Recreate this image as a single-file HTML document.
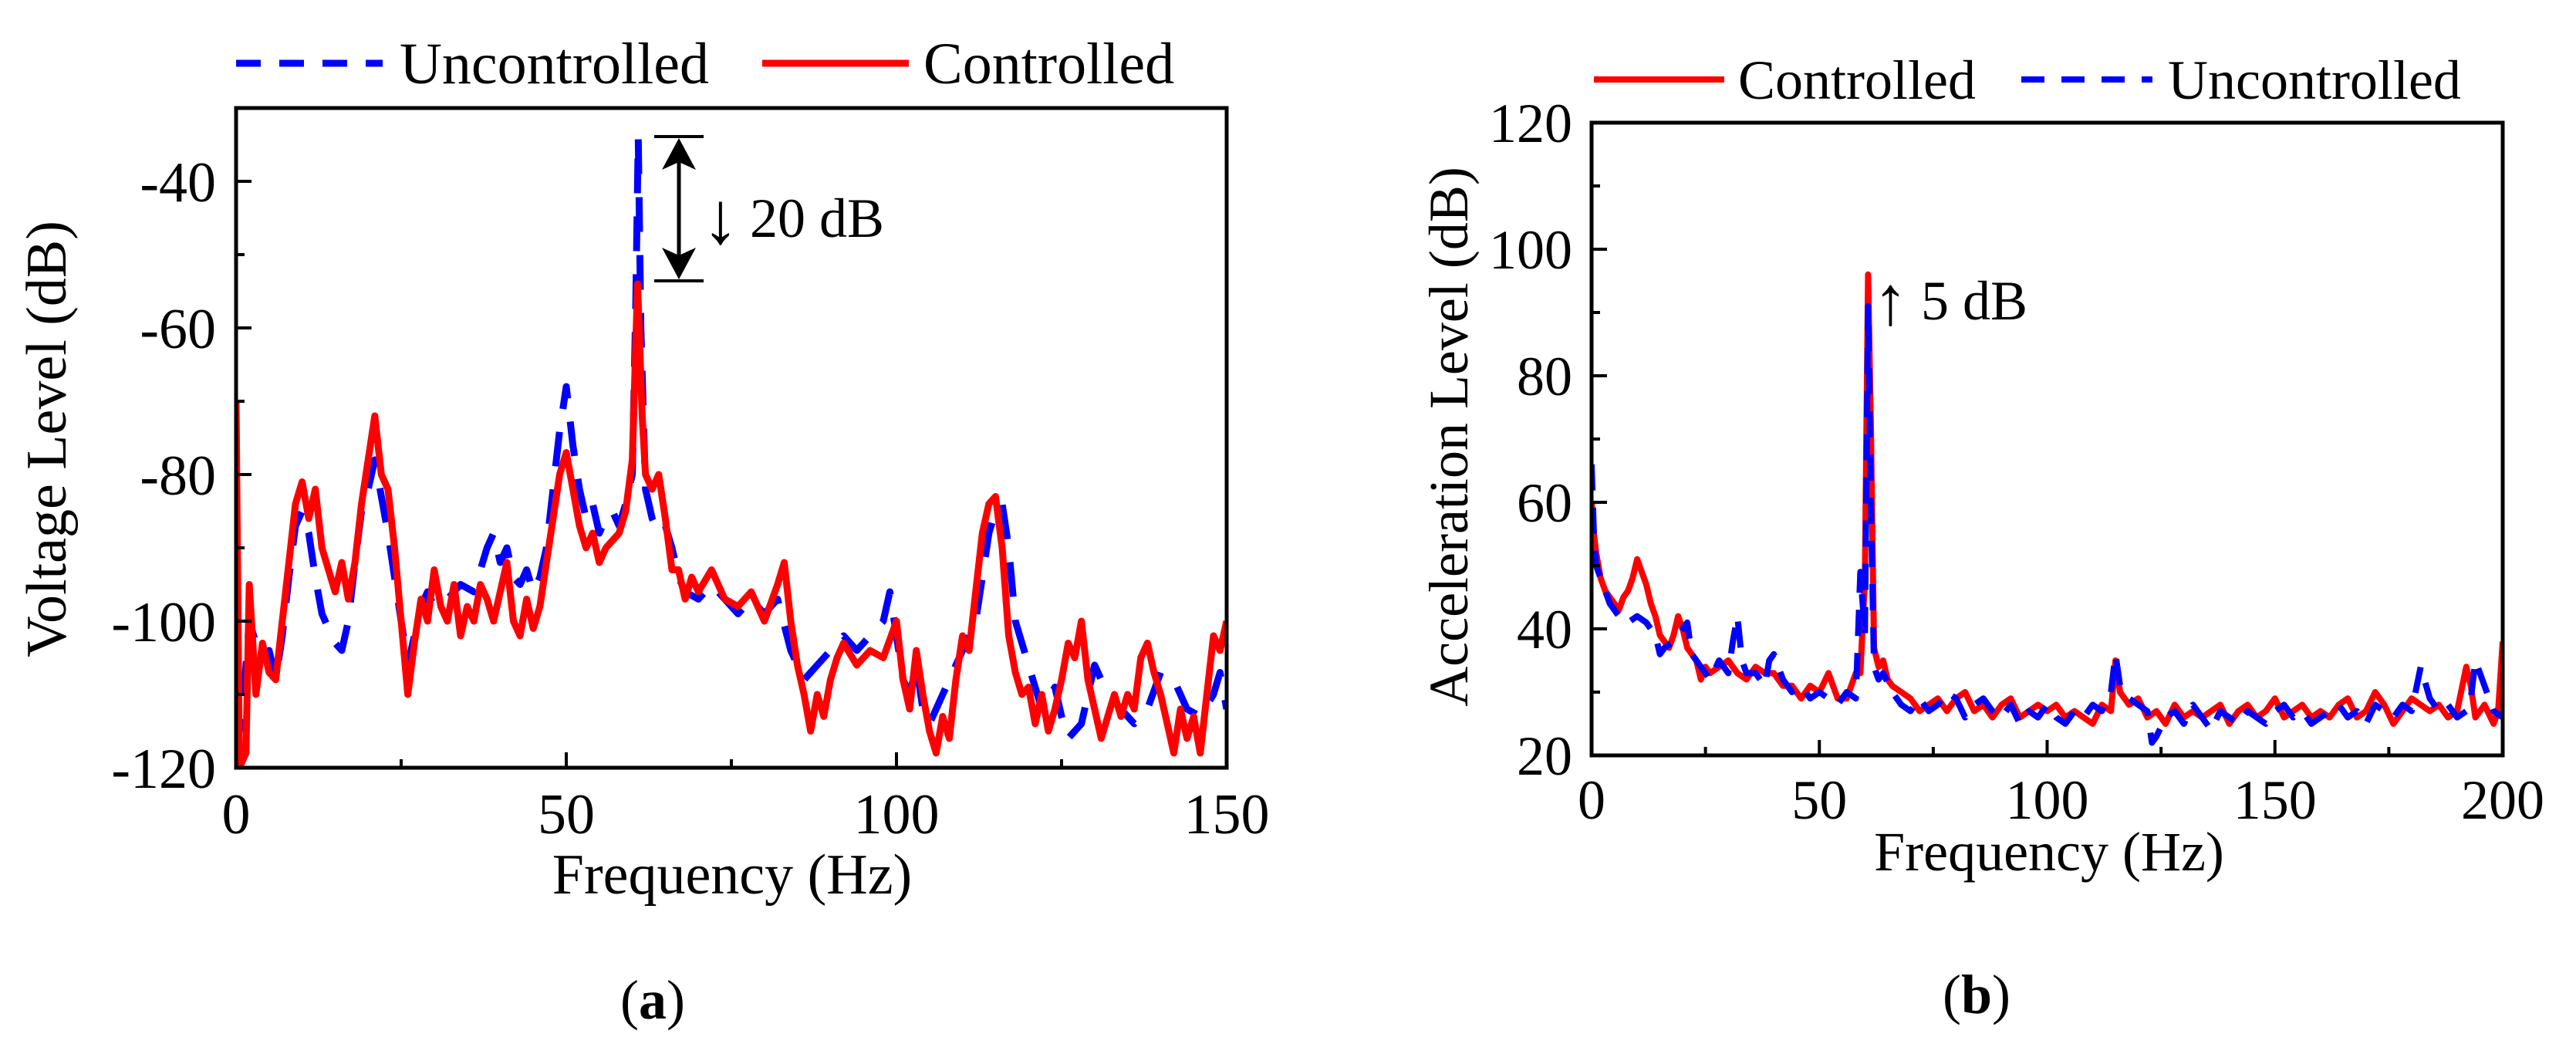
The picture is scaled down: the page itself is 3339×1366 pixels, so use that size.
<!DOCTYPE html>
<html><head><meta charset="utf-8"><style>
html,body{margin:0;padding:0;background:#fff;}
svg{display:block;font-family:"Liberation Serif",serif;}
</style></head><body>
<svg id="fig" width="3339" height="1366" viewBox="0 0 3339 1366" xmlns="http://www.w3.org/2000/svg">
<rect width="3339" height="1366" fill="#fff"/>
<g>
  <g>
    <line x1="306" y1="82" x2="496" y2="82" stroke="#0000ff" stroke-width="9" stroke-dasharray="32,24"/>
    <text x="518" y="108" font-size="76">Uncontrolled</text>
    <line x1="988" y1="82" x2="1178" y2="82" stroke="#ff0000" stroke-width="9"/>
    <text x="1197" y="108" font-size="76">Controlled</text>
  </g>
  <g id="seriesA"></g>
  <g id="axesA"></g>
  <text x="85" y="569" font-size="74" text-anchor="middle" transform="rotate(-90 85 569)">Voltage Level (dB)</text>
  <text x="949" y="1158" font-size="74" text-anchor="middle">Frequency (Hz)</text>
  <text x="846" y="1320" font-size="72" text-anchor="middle">(<tspan font-weight="bold">a</tspan>)</text>
  <g>
    <line x1="848" y1="177" x2="912" y2="177" stroke="#000" stroke-width="4"/>
    <line x1="848" y1="364" x2="912" y2="364" stroke="#000" stroke-width="4"/>
    <line x1="880" y1="200" x2="880" y2="342" stroke="#000" stroke-width="5"/>
    <polygon points="880,179 858,220 880,210 902,220" fill="#000"/>
    <polygon points="880,362 858,321 880,331 902,321" fill="#000"/>
    <text x="910" y="315" font-size="95">↓</text>
    <text x="972" y="307" font-size="72">20 dB</text>
  </g>
</g>
<g>
  <g>
    <line x1="2066" y1="103" x2="2235" y2="103" stroke="#ff0000" stroke-width="8"/>
    <text x="2253" y="128" font-size="72">Controlled</text>
    <line x1="2620" y1="103" x2="2790" y2="103" stroke="#0000ff" stroke-width="8" stroke-dasharray="30,22"/>
    <text x="2810" y="128" font-size="72">Uncontrolled</text>
  </g>
  <g id="seriesB"></g>
  <g id="axesB"></g>
  <text x="1878" y="590" font-size="72" text-anchor="middle" transform="rotate(-90 1878 566)">Acceleration Level (dB)</text>
  <text x="2656" y="1128" font-size="72" text-anchor="middle">Frequency (Hz)</text>
  <text x="2562" y="1313" font-size="72" text-anchor="middle">(<tspan font-weight="bold">b</tspan>)</text>
  <text x="2428" y="420" font-size="90">↑</text>
  <text x="2490" y="414" font-size="72">5 dB</text>
</g>
</svg>
<script>
// ---- Chart A data ----
const aCtrlF = [0,0.5,1.5,2,3,4,5,6,7,8,9,10,11,12,13,14,15,16,17,18,19,20,21,22,23,24,25,26,27,28,29,30,31,32,33,34,35,36,37,38,39,40,41,42,43,44,45,46,47,48,49,50,51,52,53,54,55,56,57,58,59,60,60.8,61.5,62,63,64,65,66,67,68,69,70,72,74,76,78,80,82,83,84,85,86,87,88,89,90,91,92,94,96,98,100,101,102,103,104,105,106,107,108,109,110,111,112,113,114,115,116,117,118,119,120,121,122,123,124,125,126,127,128,129,130,131,132,133,134,135,136,137,138,139,140,141,142,143,144,145,146,147,148,149,150];
const aCtrlV = [-70,-120,-118,-95,-110,-103,-107,-108,-100,-92,-84,-81,-86,-82,-90,-93,-96,-92,-97,-92,-84,-78,-72,-80,-82,-90,-100,-110,-103,-97,-100,-93,-98,-100,-95,-102,-98,-100,-95,-97,-100,-96,-92,-100,-102,-97,-101,-98,-92,-86,-80,-77,-82,-87,-90,-88,-92,-90,-89,-88,-85,-78,-54,-72,-80,-82,-80,-86,-93,-93,-97,-94,-96,-93,-97,-98,-96,-100,-95,-92,-100,-106,-110,-115,-110,-113,-108,-105,-103,-106,-104,-105,-100,-108,-112,-104,-110,-115,-118,-113,-116,-108,-102,-104,-96,-88,-84,-83,-90,-102,-107,-110,-109,-114,-110,-115,-112,-108,-103,-105,-100,-108,-112,-116,-113,-110,-113,-110,-112,-105,-103,-107,-110,-114,-118,-112,-116,-113,-118,-110,-102,-104,-100];
const aUncF = [0,1,2,3,4,5,6,7,8,9,10,11,12,13,14,15,16,17,18,19,20,21,22,23,24,25,26,27,28,29,30,32,34,36,38,39,40,41,42,43,44,45,46,47,48,49,50,51,52,53,54,55,56,57,58,59,60,60.5,60.9,61.3,62,63,64,65,66,67,68,70,72,74,76,78,80,82,84,86,88,90,92,94,96,98,99,100,101,102,103,104,105,106,108,110,112,113,114,115,116,117,118,120,122,124,125,126,128,130,132,134,136,138,140,142,144,146,148,149,150];
const aUncV = [-118,-112,-100,-103,-105,-104,-108,-102,-94,-87,-85,-88,-94,-99,-101,-103,-104,-100,-92,-85,-82,-78,-83,-88,-94,-100,-106,-102,-98,-96,-98,-97,-95,-96,-90,-88,-92,-90,-94,-95,-93,-96,-94,-90,-82,-74,-68,-76,-82,-86,-84,-88,-86,-85,-87,-84,-80,-58,-34,-60,-82,-86,-88,-87,-90,-94,-96,-97,-95,-97,-99,-97,-99,-97,-104,-108,-106,-104,-102,-104,-102,-100,-96,-102,-108,-110,-106,-112,-114,-112,-108,-104,-100,-94,-88,-85,-84,-90,-100,-106,-112,-109,-113,-116,-114,-106,-110,-112,-114,-112,-107,-108,-112,-113,-110,-107,-112,-98];
const aXTicks = [0,50,100,150];
const aXTickLabels = ["0","50","100","150"];
const aYTicks = [-120,-100,-80,-60,-40];
const aYTickLabels = ["-120","-100","-80","-60","-40"];
// ---- Chart B data ----
const bCtrlF = [0,0.5,1,2,3,4,5,6,7,8,9,10,11,12,13,14,15,16,17,18,19,20,21,22,23,24,25,26,28,30,32,34,36,38,40,42,44,46,48,50,52,54,56,58,59,60,60.7,61.3,62,63,64,65,66,68,70,72,74,76,78,80,82,84,86,88,90,92,94,96,98,100,102,104,106,108,110,112,114,115,116,118,120,122,124,126,128,130,132,134,136,138,140,142,144,146,148,150,152,154,156,158,160,162,164,166,168,170,172,174,176,178,180,182,184,186,188,190,192,193,194,196,198,199,200];
const bCtrlV = [60,55,52,48,46,45,44,43,45,46,48,51,49,47,44,42,39,38,37,39,42,40,37,36,35,32,34,33,34,35,33,32,34,33,33,31,31,29,31,30,33,29,29,33,33,48,96,72,37,34,35,32,31,30,29,27,28,29,27,29,30,27,28,26,28,29,26,27,28,27,28,26,27,26,25,28,27,35,30,28,29,26,27,25,28,26,27,26,27,28,25,27,28,26,27,29,26,27,28,26,27,26,28,29,26,27,30,28,25,27,29,28,27,28,26,27,34,31,26,28,25,27,38];
const bUncF = [0,0.5,1,2,3,4,5,6,7,8,10,12,14,15,16,18,20,21,22,24,26,28,30,31,32,33,34,36,38,39,40,42,44,46,48,50,52,54,56,58,59,60,60.7,61.3,62,63,64,66,68,70,72,74,76,78,80,82,84,86,88,90,92,94,96,98,100,102,104,106,108,110,112,114,115,116,118,120,122,123,124,126,128,130,132,134,136,138,140,142,144,146,148,150,152,154,156,158,160,162,164,166,168,170,172,174,176,178,180,182,184,186,188,190,192,193,194,196,198,200];
const bUncV = [66,55,50,48,46,44,43,42,42,41,42,41,39,36,37,38,40,41,36,34,32,35,33,38,42,35,33,33,31,35,36,32,30,31,29,30,29,28,30,29,49,39,91,60,34,32,33,30,28,27,29,27,28,30,29,26,28,29,27,26,28,25,27,26,28,26,25,27,26,28,27,30,36,31,29,28,27,22,23,26,27,25,28,26,24,27,26,25,27,26,25,27,28,26,27,25,26,27,28,26,27,25,28,27,26,28,27,34,29,27,28,26,27,29,35,31,27,26,25,38];
const bXTicks = [0,50,100,150,200];
const bXTickLabels = ["0","50","100","150","200"];
const bYTicks = [20,40,60,80,100,120];
const bYTickLabels = ["20","40","60","80","100","120"];

const NS = "http://www.w3.org/2000/svg";
function mk(tag, attrs, parent){
  const e = document.createElementNS(NS, tag);
  for (const k in attrs) e.setAttribute(k, attrs[k]);
  parent.appendChild(e);
  return e;
}
function drawChart(cfg){
  const sx = v => cfg.x0 + (v - cfg.xmin) / (cfg.xmax - cfg.xmin) * (cfg.x1 - cfg.x0);
  const sy = v => cfg.y1 - (v - cfg.ymin) / (cfg.ymax - cfg.ymin) * (cfg.y1 - cfg.y0);
  const sg = cfg.series, ag = cfg.axes;
  const clipId = cfg.id + "clip";
  const cp = mk("clipPath", {id: clipId}, sg);
  mk("rect", {x: cfg.x0, y: cfg.y0, width: cfg.x1 - cfg.x0, height: cfg.y1 - cfg.y0}, cp);
  const g = mk("g", {"clip-path": "url(#" + clipId + ")"}, sg);
  cfg.lines.forEach(L => {
    let d = "";
    L.f.forEach((f, i) => { d += (i ? "L" : "M") + sx(f).toFixed(1) + "," + sy(L.v[i]).toFixed(1); });
    const p = mk("path", {d: d, fill: "none", stroke: L.color, "stroke-width": L.w, "stroke-linejoin": "round", "stroke-dasharray": L.dash || "none"}, g);
    
    
  });
  const frame = mk("rect", {x: cfg.x0, y: cfg.y0, width: cfg.x1 - cfg.x0, height: cfg.y1 - cfg.y0, fill: "none", stroke: "#000", "stroke-width": 5}, ag);
  
  
  cfg.xt.forEach((t, i) => {
    const x = sx(t);
    mk("line", {x1: x, y1: cfg.y1, x2: x, y2: cfg.y1 - 20, stroke: "#000", "stroke-width": 4}, ag);
    if (i < cfg.xt.length - 1) { const xm = sx(t + cfg.xminor); mk("line", {x1: xm, y1: cfg.y1, x2: xm, y2: cfg.y1 - 11, stroke: "#000", "stroke-width": 4}, ag); }
    const tx = mk("text", {x: x, y: cfg.y1 + cfg.xlabOff, "font-size": cfg.fs, "text-anchor": "middle"}, ag);
    tx.textContent = cfg.xl[i];
    
    
  });
  cfg.yt.forEach((t, i) => {
    const y = sy(t);
    mk("line", {x1: cfg.x0, y1: y, x2: cfg.x0 + 20, y2: y, stroke: "#000", "stroke-width": 4}, ag);
    if (i < cfg.yt.length - 1) { const ym = sy(t + cfg.yminor); mk("line", {x1: cfg.x0, y1: ym, x2: cfg.x0 + 11, y2: ym, stroke: "#000", "stroke-width": 4}, ag); }
    const ty = mk("text", {x: cfg.ylabX, y: y + cfg.fs * 0.35, "font-size": cfg.fs, "text-anchor": "end"}, ag);
    ty.textContent = cfg.yl[i];
    
    
  });
}
drawChart({id: "a", series: document.getElementById("seriesA"), axes: document.getElementById("axesA"),
  x0: 306, x1: 1590, y0: 140, y1: 995, xmin: 0, xmax: 150, ymin: -120, ymax: -30,
  xt: aXTicks, xl: aXTickLabels, yt: aYTicks, yl: aYTickLabels, xminor: 25, yminor: 10,
  fs: 74, xlabOff: 85, ylabX: 280,
  lines: [
    {f: aUncF, v: aUncV, color: "#0000ff", w: 9, dash: "45,30", name: "uncontrolled-line-a"},
    {f: aCtrlF, v: aCtrlV, color: "#ff0000", w: 9, name: "controlled-line-a"}
  ]});
drawChart({id: "b", series: document.getElementById("seriesB"), axes: document.getElementById("axesB"),
  x0: 2063, x1: 3244, y0: 159, y1: 979, xmin: 0, xmax: 200, ymin: 20, ymax: 120,
  xt: bXTicks, xl: bXTickLabels, yt: bYTicks, yl: bYTickLabels, xminor: 25, yminor: 10,
  fs: 72, xlabOff: 82, ylabX: 2038,
  lines: [
    {f: bCtrlF, v: bCtrlV, color: "#ff0000", w: 8, name: "controlled-line-b"},
    {f: bUncF, v: bUncV, color: "#0000ff", w: 8, dash: "34,22", name: "uncontrolled-line-b"}
  ]});
</script>
</body></html>
